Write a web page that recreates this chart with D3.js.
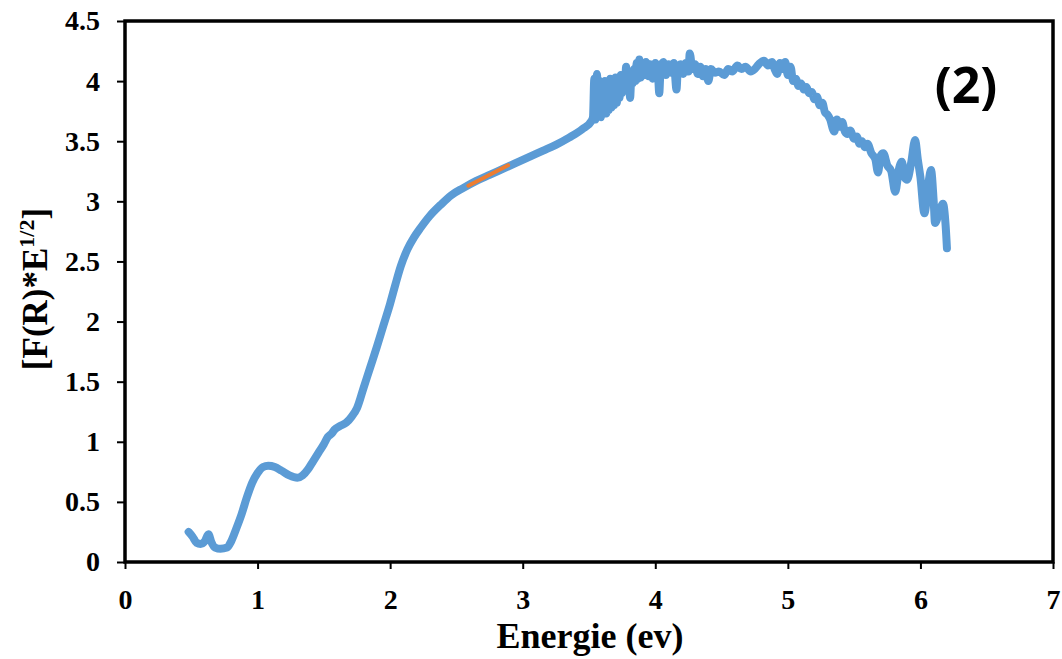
<!DOCTYPE html>
<html>
<head>
<meta charset="utf-8">
<script src="https://cdn.jsdelivr.net/npm/d3@7"></script>
<style>
  html, body { margin: 0; padding: 0; background: #fff; }
  svg { display: block; }
</style>
</head>
<body>
<svg id="chart" width="1062" height="659"></svg>
<script>
// Energy (eV) values of the measured curve
const energy = [
  0.48,0.51,0.54,0.57,0.60,0.63,0.65,0.68,0.72,0.77,0.80,0.84,0.88,0.92,0.96,1.00,1.04,1.08,1.13,1.18,
  1.24,1.30,1.34,1.38,1.42,1.46,1.50,1.53,1.56,1.58,1.62,1.67,1.71,1.75,1.80,1.85,1.90,1.95,2.00,2.04,
  2.08,2.13,2.18,2.23,2.30,2.38,2.46,2.55,2.65,2.75,2.85,2.95,3.05,3.15,3.25,3.35,3.45,3.52,
  3.53,3.54,3.55,3.56,3.57,3.58,3.59,3.60,3.61,3.62,3.63,3.64,3.65,3.66,3.67,3.68,3.69,3.70,3.71,3.72,
  3.73,3.74,3.75,3.76,3.77,3.78,3.79,3.80,3.81,3.82,3.83,3.84,3.85,3.86,3.87,3.88,3.89,3.90,3.92,3.93,
  3.95,3.96,3.98,4.00,4.02,4.03,4.04,4.06,4.08,4.10,4.12,4.14,4.16,4.17,4.19,4.21,4.23,4.25,4.26,4.28,
  4.30,4.32,4.34,4.36,4.38,4.40,4.42,4.45,4.48,4.52,4.55,4.58,4.62,4.65,4.68,4.72,4.75,4.78,4.82,4.85,
  4.88,4.90,4.92,4.94,4.96,4.98,
  5.00,5.02,5.04,5.06,5.08,5.10,5.12,5.14,5.16,5.18,5.20,5.22,5.24,5.26,5.28,5.30,5.32,5.34,5.35,5.37,
  5.39,5.41,5.43,5.45,5.47,5.50,5.52,5.54,5.56,5.58,5.60,5.63,5.66,5.68,5.70,5.72,5.75,5.78,5.81,5.84,
  5.86,5.88,5.90,5.93,5.96,5.98,6.00,6.03,6.06,6.08,6.10,6.11,6.14,6.17,6.19,6.20
];
// [F(R)*E^(1/2)] values
const fr = [
  0.25,0.21,0.16,0.15,0.17,0.23,0.17,0.12,0.11,0.12,0.17,0.28,0.40,0.54,0.66,0.74,0.79,0.80,0.79,0.76,
  0.72,0.70,0.72,0.77,0.84,0.91,0.98,1.04,1.07,1.10,1.13,1.16,1.21,1.28,1.45,1.62,1.79,1.97,2.15,2.31,
  2.46,2.60,2.70,2.78,2.88,2.97,3.05,3.11,3.17,3.22,3.27,3.32,3.37,3.42,3.47,3.53,3.60,3.67,
  3.70,4.02,3.68,4.06,3.72,4.00,3.70,3.98,3.74,4.00,3.73,3.99,3.76,4.02,3.78,3.98,3.80,4.03,3.82,4.00,
  3.86,4.05,3.90,4.04,3.93,4.12,3.95,4.08,3.86,4.05,3.98,4.10,4.00,4.15,4.02,4.18,4.03,4.12,4.05,4.16,
  4.04,4.14,4.02,4.15,4.06,3.90,4.10,4.16,4.05,4.14,4.07,4.15,3.93,4.10,4.14,4.06,4.15,4.08,4.23,4.10,
  4.14,4.06,4.12,4.04,4.10,4.00,4.10,4.07,4.08,4.05,4.10,4.08,4.13,4.10,4.12,4.08,4.10,4.14,4.17,4.13,
  4.16,4.10,4.06,4.15,4.10,4.16,
  4.05,4.12,4.00,4.02,3.96,3.98,3.93,3.95,3.90,3.91,3.85,3.87,3.80,3.82,3.74,3.72,3.68,3.60,3.58,3.68,
  3.62,3.66,3.58,3.56,3.59,3.52,3.54,3.48,3.50,3.45,3.48,3.40,3.35,3.24,3.38,3.40,3.30,3.25,3.08,3.28,
  3.33,3.20,3.18,3.32,3.51,3.35,3.20,2.90,3.15,3.26,3.00,2.82,2.90,2.98,2.80,2.61
];
// Short orange fit segment
const fitEnergy = [2.59, 2.89];
const fitFr = [3.13, 3.30];
// Tick labels
const xTicks = [0,1,2,3,4,5,6,7];
const yTicks = [0,0.5,1,1.5,2,2.5,3,3.5,4,4.5];
const xTitle = "Energie (ev)";
const panelLabel = "(2)";

const svg = d3.select("#chart");
const x = d3.scaleLinear().domain([0, 7]).range([125, 1053]);
const y = d3.scaleLinear().domain([0, 4.5]).range([562, 21]);

const serif = "'Liberation Serif', 'Times New Roman', serif";

// Axes
const xAxis = d3.axisBottom(x).tickValues(xTicks).tickSize(7).tickSizeOuter(0).tickFormat(d3.format("d"));
const yAxis = d3.axisLeft(y).tickValues(yTicks).tickSize(8).tickSizeOuter(0).tickFormat(d => String(d));

const gx = svg.append("g").attr("transform", `translate(0,${y(0)})`).call(xAxis);
const gy = svg.append("g").attr("transform", `translate(${x(0)},0)`).call(yAxis);

[gx, gy].forEach(g => {
  g.select(".domain").remove();
  g.selectAll(".tick line").attr("stroke", "#000").attr("stroke-width", 2);
  g.selectAll(".tick text")
    .attr("fill", "#000")
    .style("font-family", serif)
    .style("font-weight", "bold")
    .style("font-size", "28px");
});
gx.selectAll(".tick text").attr("dy", "0.9em").attr("y", 22);
gy.selectAll(".tick text").attr("x", -25).attr("dy", "0.32em");

// Frame
svg.append("rect")
  .attr("x", x(0)).attr("y", y(4.5))
  .attr("width", x(7) - x(0)).attr("height", y(0) - y(4.5))
  .attr("fill", "none").attr("stroke", "#000").attr("stroke-width", 3.5);

// Data line
const pts = energy.map((e, i) => [e, fr[i]]);
const line = d3.line().x(d => x(d[0])).y(d => y(d[1])).curve(d3.curveMonotoneX);
svg.append("path")
  .datum(pts)
  .attr("d", line)
  .attr("fill", "none")
  .attr("stroke", "#5B9BD5")
  .attr("stroke-width", 8)
  .attr("stroke-linejoin", "round")
  .attr("stroke-linecap", "round");

// Fit segment
const fitPts = fitEnergy.map((e, i) => [e, fitFr[i]]);
svg.append("path")
  .datum(fitPts)
  .attr("d", d3.line().x(d => x(d[0])).y(d => y(d[1])))
  .attr("fill", "none")
  .attr("stroke", "#ED7D31")
  .attr("stroke-width", 4)
  .attr("stroke-linecap", "round");

// X title
svg.append("text")
  .attr("x", (x(0) + x(7)) / 2 + 1)
  .attr("y", 648)
  .attr("text-anchor", "middle")
  .style("font-family", serif)
  .style("font-weight", "bold")
  .style("font-size", "36px")
  .text(xTitle);

// Y title with superscript
const yt = svg.append("text")
  .attr("transform", "translate(47,289) rotate(-90)")
  .attr("text-anchor", "middle")
  .style("font-family", serif)
  .style("font-weight", "bold")
  .style("font-size", "35px");
yt.append("tspan").text("[F(R)*E");
yt.append("tspan").attr("dy", -13).style("font-size", "22px").text("1/2");
yt.append("tspan").attr("dy", 13).text("]");

// Panel label
svg.append("text")
  .attr("x", 966)
  .attr("y", 103)
  .attr("text-anchor", "middle")
  .style("font-family", "'Open Sans', 'Noto Sans', sans-serif")
  .style("font-weight", "bold")
  .style("font-size", "50px")
  .text(panelLabel);
</script>
</body>
</html>
